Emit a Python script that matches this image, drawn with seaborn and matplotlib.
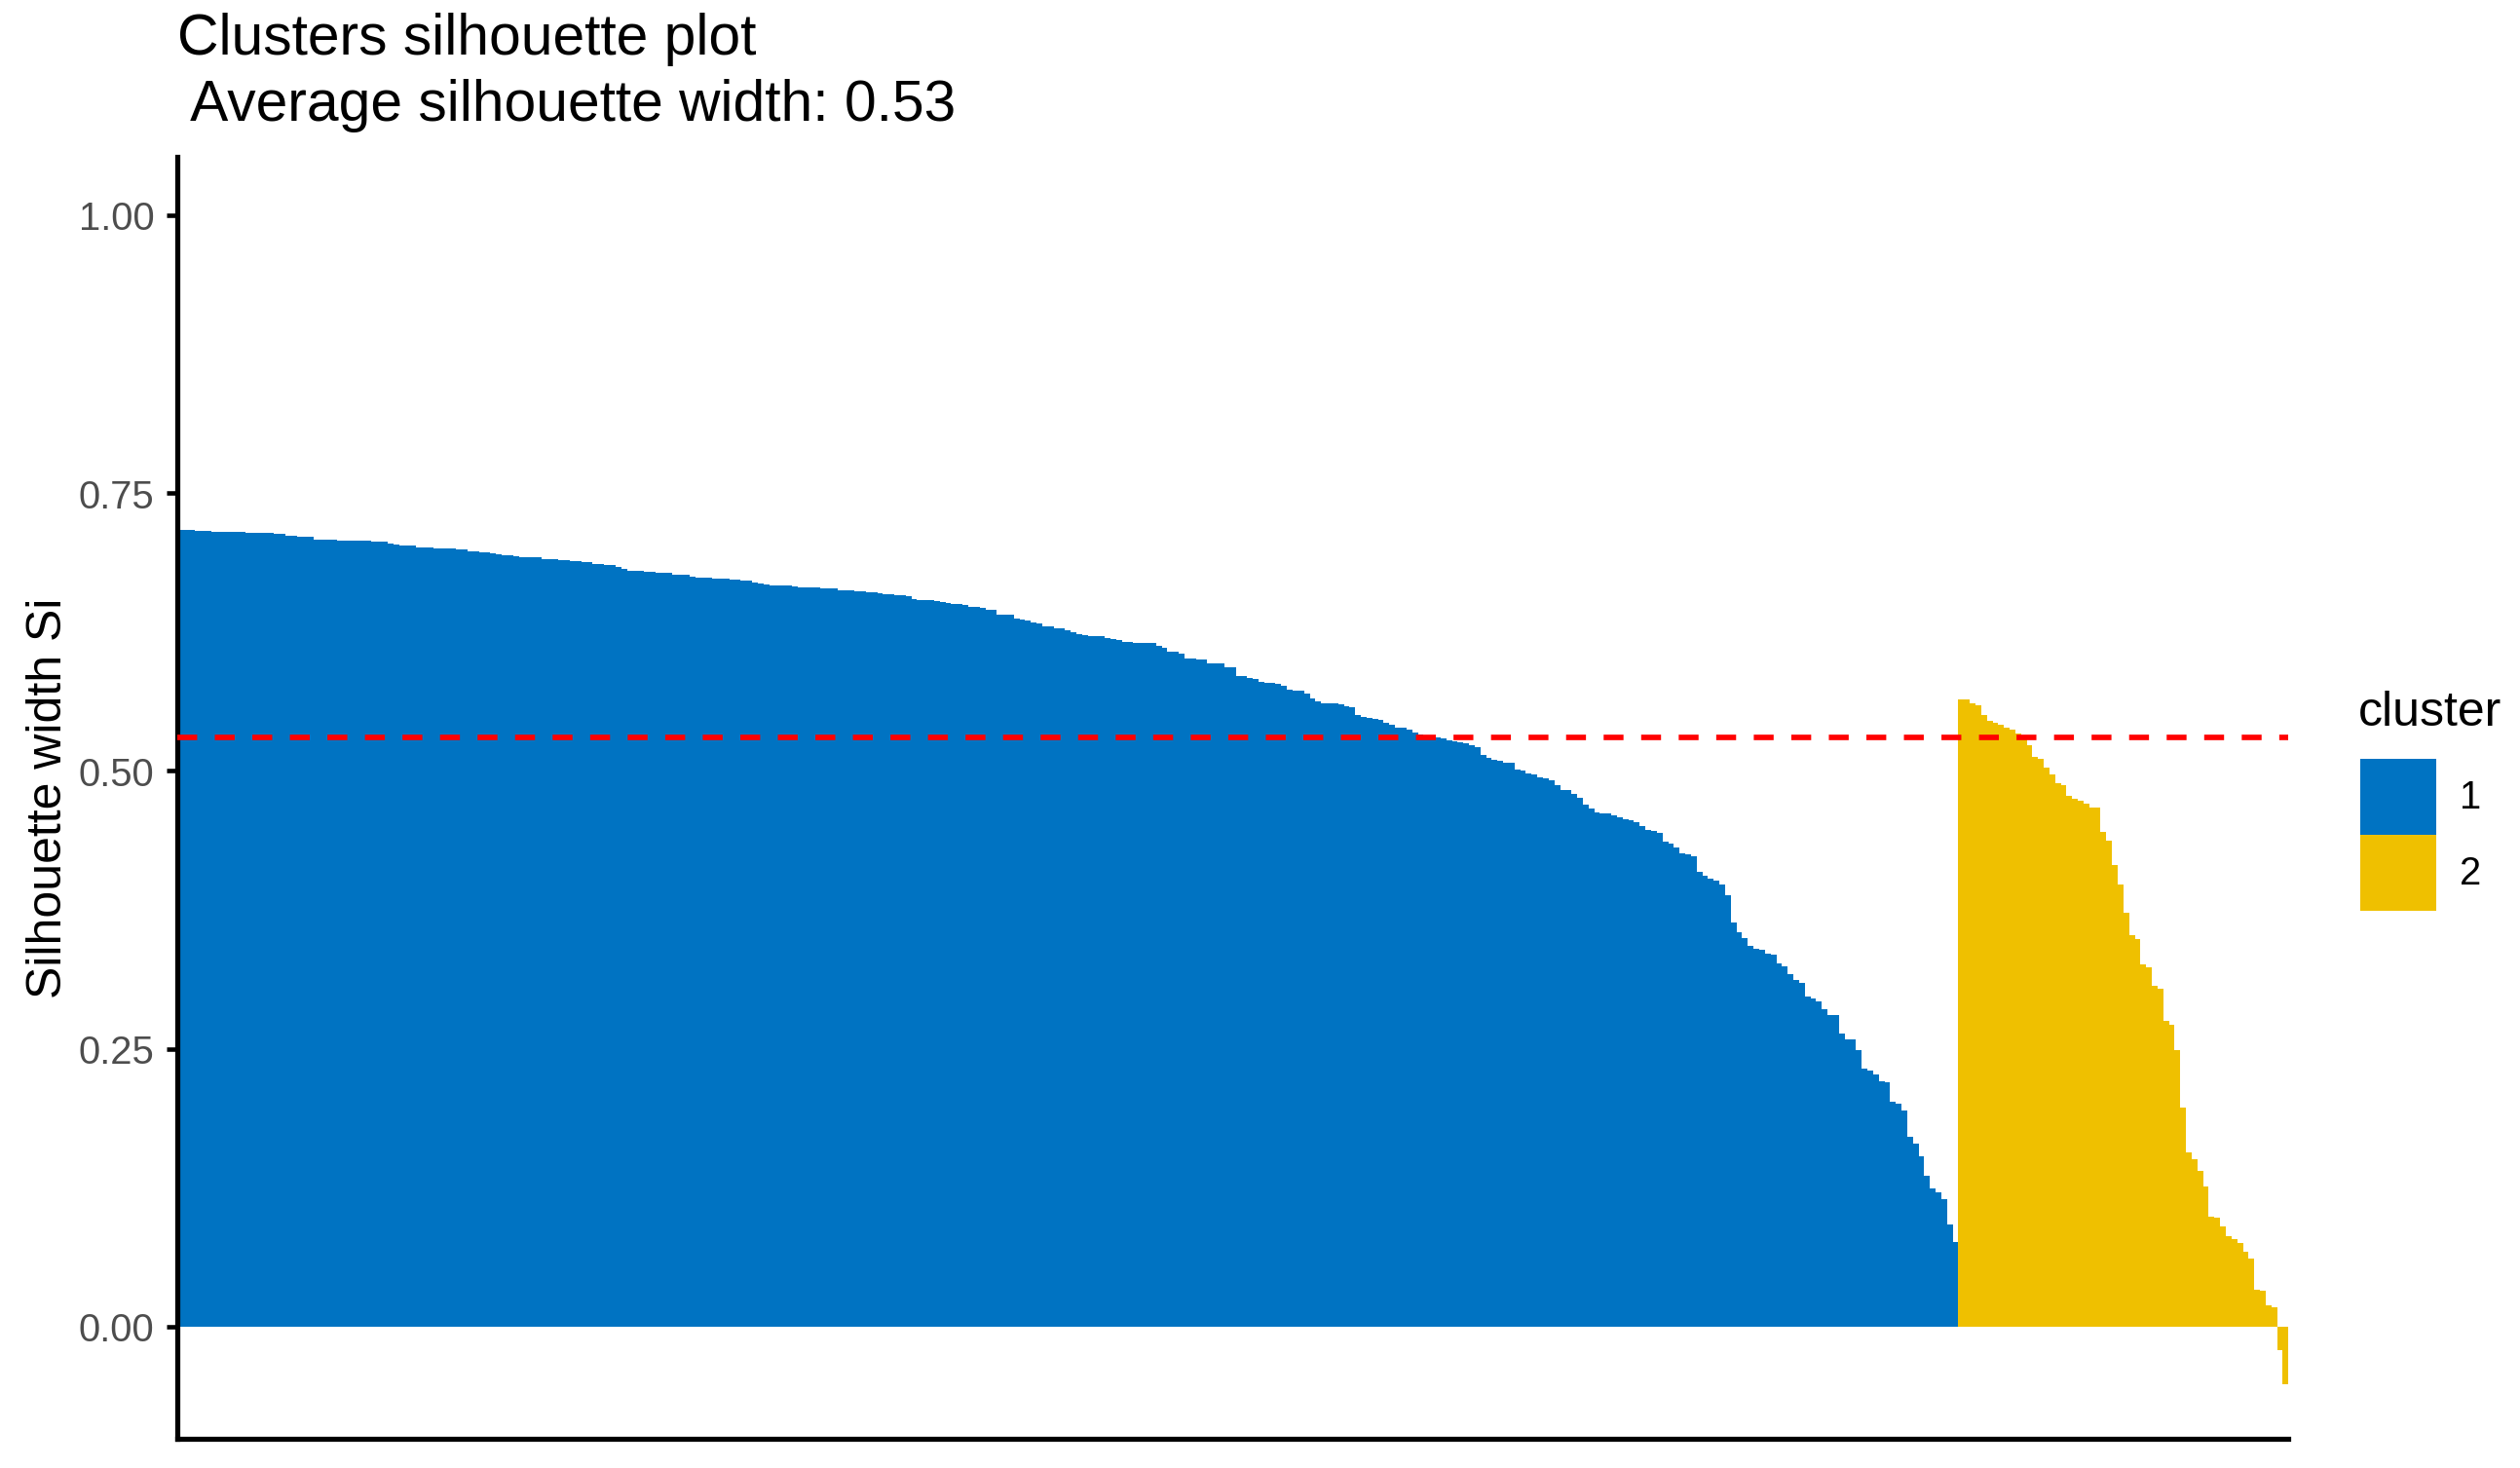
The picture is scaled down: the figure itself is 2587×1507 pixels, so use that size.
import pandas as pd
import matplotlib
matplotlib.use("Agg")
import matplotlib.pyplot as plt
import seaborn as sns

# silhouette widths, sorted inside each cluster
cluster1_sil = [
    0.717, 0.717, 0.717, 0.716, 0.716, 0.716, 0.715, 0.715, 0.715, 0.715, 0.715, 0.715,
    0.714, 0.714, 0.714, 0.714, 0.714, 0.713, 0.713, 0.712, 0.712, 0.711, 0.711, 0.711,
    0.708, 0.708, 0.708, 0.708, 0.707, 0.707, 0.707, 0.707, 0.707, 0.707, 0.706, 0.706,
    0.706, 0.705, 0.704, 0.703, 0.703, 0.703, 0.701, 0.701, 0.701,
    0.700, 0.700, 0.700, 0.700, 0.699, 0.699, 0.698, 0.698, 0.697, 0.697, 0.696, 0.695,
    0.694, 0.694, 0.693, 0.692, 0.692, 0.692, 0.692,
    0.691, 0.691, 0.691, 0.690, 0.690, 0.689, 0.689, 0.688, 0.688, 0.686, 0.686, 0.685,
    0.685, 0.684, 0.682, 0.680,
    0.680, 0.680, 0.679, 0.679, 0.678, 0.678, 0.678, 0.677, 0.677, 0.677, 0.675, 0.674,
    0.674, 0.674, 0.673, 0.673, 0.673, 0.672, 0.672, 0.671, 0.671,
    0.670, 0.669, 0.668, 0.667, 0.667, 0.667, 0.667, 0.666, 0.665, 0.665, 0.665, 0.665,
    0.664, 0.664, 0.664, 0.663, 0.663, 0.663,
    0.662, 0.662, 0.661, 0.661, 0.660, 0.659, 0.659, 0.658, 0.658, 0.657, 0.655, 0.654,
    0.654, 0.654, 0.653, 0.652, 0.651,
    0.650, 0.650, 0.649, 0.648, 0.648, 0.647, 0.645, 0.645, 0.641, 0.641, 0.641, 0.637,
    0.636, 0.635, 0.634, 0.633, 0.630, 0.630, 0.628, 0.628,
    0.627, 0.625, 0.623, 0.622, 0.621, 0.621, 0.621, 0.620, 0.619, 0.618, 0.616, 0.616,
    0.615, 0.615, 0.615, 0.615, 0.613, 0.611,
    0.607, 0.607, 0.606, 0.601, 0.601, 0.600, 0.600, 0.597, 0.597, 0.597, 0.593, 0.593,
    0.585, 0.585, 0.584, 0.583,
    0.580, 0.579, 0.579, 0.578, 0.577, 0.573, 0.572, 0.572, 0.570, 0.565, 0.563, 0.561,
    0.561, 0.561, 0.560, 0.558, 0.557,
    0.550, 0.549, 0.548, 0.547, 0.546, 0.543, 0.542, 0.539, 0.539, 0.537, 0.535,
    0.533, 0.532, 0.531, 0.530, 0.529, 0.528, 0.527, 0.526, 0.525, 0.523, 0.521, 0.514,
    0.512, 0.510, 0.509, 0.507, 0.507,
    0.501, 0.500, 0.498, 0.497, 0.494, 0.493, 0.492, 0.487, 0.483, 0.483, 0.479, 0.476,
    0.470, 0.466, 0.463, 0.462, 0.462,
    0.460, 0.458, 0.457, 0.456, 0.454, 0.450, 0.447, 0.446, 0.444, 0.436, 0.435, 0.431,
    0.426, 0.425, 0.423,
    0.409, 0.406, 0.403, 0.401, 0.398, 0.388, 0.364, 0.355, 0.350, 0.343, 0.340, 0.339,
    0.336, 0.335,
    0.327, 0.324, 0.317, 0.312, 0.309, 0.297, 0.295, 0.293, 0.286, 0.280, 0.280,
    0.264, 0.258, 0.258, 0.249, 0.232, 0.230, 0.227, 0.221, 0.220, 0.202, 0.201, 0.194,
    0.171, 0.165, 0.153, 0.136, 0.124, 0.121, 0.115, 0.092, 0.076,
]
cluster2_sil = [
    0.564, 0.564, 0.561, 0.559, 0.550, 0.545, 0.543, 0.542, 0.539, 0.537,
    0.534, 0.529, 0.523, 0.513, 0.511, 0.503, 0.497, 0.489, 0.487, 0.478,
    0.475, 0.473, 0.471, 0.467, 0.467, 0.445, 0.437, 0.415, 0.398, 0.372,
    0.352, 0.349, 0.326, 0.323, 0.307, 0.304, 0.275, 0.272, 0.249, 0.197,
    0.157, 0.151, 0.140, 0.126, 0.099, 0.098, 0.090, 0.081, 0.079, 0.075,
    0.067, 0.061, 0.033, 0.032, 0.019, 0.017, -0.021, -0.052,
]
cluster_labels = ["1", "2"]
cluster_colors = ["#0073C2", "#EFC000"]
avg_width = 0.53
y_ticks = [0.00, 0.25, 0.50, 0.75, 1.00]

sil = pd.DataFrame({
    "sil_width": cluster1_sil + cluster2_sil,
    "cluster": ["1"] * len(cluster1_sil) + ["2"] * len(cluster2_sil),
})
sil["name"] = sil.index.astype(str)

sns.set_style("white")
plt.rcParams["font.family"] = ["Liberation Sans", "DejaVu Sans"]
plt.rcParams["text.color"] = "black"

W, H = 2587, 1507
fig = plt.figure(figsize=((W + 0.3) / 300, (H + 0.3) / 300), dpi=300)
ax = fig.add_axes([182 / W, 30 / H, (2349 - 182) / W, (1477 - 161.5) / H])

sns.barplot(data=sil, x="name", y="sil_width", hue="cluster", order=sil["name"],
            hue_order=cluster_labels, palette=cluster_colors, dodge=False, width=1,
            saturation=1, linewidth=0, errorbar=None, ax=ax)
for p in ax.patches:
    p.set_antialiased(False)

# average silhouette width
ax.axhline(avg_width, color="red", linestyle=(0, (3.6, 3.2)), linewidth=1.36, zorder=5)

ax.set_xlim(-0.5, len(sil) - 0.5)
ax.set_ylim(-0.101, 1.0525)
ax.set_xticks([])
ax.set_xlabel("")
ax.set_yticks(y_ticks)
ax.set_yticklabels([f"{t:.2f}" for t in y_ticks])
ax.tick_params(axis="y", left=True, direction="out", length=2.75, width=1.1,
               color="black", labelsize=9.6, labelcolor="#4D4D4D", pad=2.9)
ax.set_ylabel("Silhouette width Si", fontsize=12, color="black")
ax.yaxis.set_label_coords((73 - 182) / (2349 - 182), 0.5)

sns.despine(ax=ax)
for side in ["left", "bottom"]:
    ax.spines[side].set_linewidth(1.25)
    ax.spines[side].set_color("black")

fig.text(182 / W, 1 - 124 / H, "Clusters silhouette plot\n Average silhouette width: 0.53",
         ha="left", va="baseline", fontsize=14.1, linespacing=1.3, color="black")

# legend: square keys, title drawn separately so the gap matches
sns.move_legend(ax, "upper left", bbox_to_anchor=(2423 / W, 1 - 779 / H),
                bbox_transform=fig.transFigure, title="", frameon=False, fontsize=9.6,
                handlelength=1.95, handleheight=2.62, labelspacing=0,
                handletextpad=0.6, borderpad=0, borderaxespad=0)
for t in ax.get_legend().get_texts():
    t.set_color("black")
fig.text(2421 / W, 1 - 745 / H, "cluster", ha="left", va="baseline", fontsize=12,
         color="black")

fig.savefig("out.png", dpi=300)
